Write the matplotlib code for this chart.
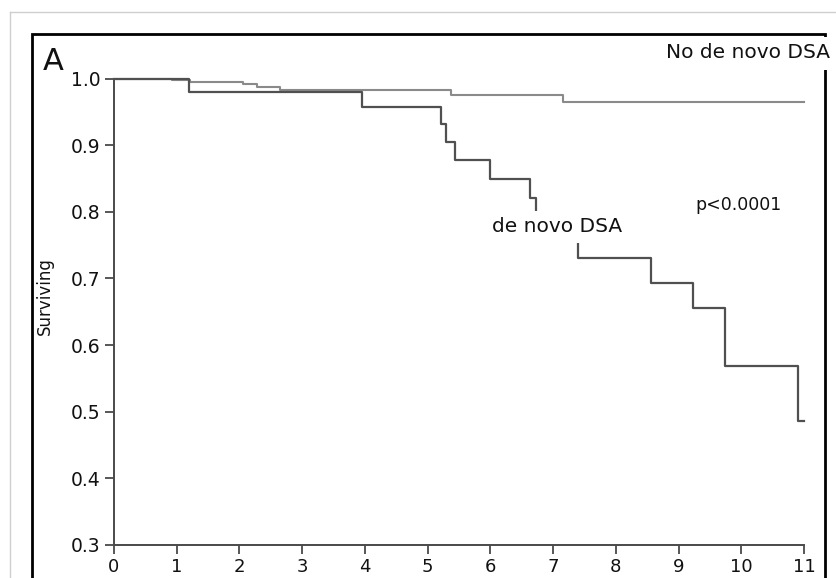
import matplotlib
matplotlib.use("Agg")
import matplotlib.pyplot as plt
from matplotlib.patches import Rectangle
from matplotlib.lines import Line2D

# ---- data ----
dsa_times = [0, 1.20, 3.96, 5.22, 5.29, 5.43, 5.99, 6.63, 6.72, 7.39, 8.56, 9.23, 9.74, 10.91, 11.0]
dsa_surv = [1.0, 0.980, 0.957, 0.931, 0.905, 0.877, 0.849, 0.821, 0.775, 0.730, 0.693, 0.656, 0.569, 0.486, 0.486]

nodsa_times = [0, 0.92, 1.21, 2.06, 2.28, 2.65, 5.37, 7.16, 11.0]
nodsa_surv = [1.0, 0.998, 0.994, 0.991, 0.987, 0.982, 0.975, 0.965, 0.965]

x_ticks = list(range(0, 12))
y_ticks = [0.3, 0.4, 0.5, 0.6, 0.7, 0.8, 0.9, 1.0]
y_ticklabels = ["0.3", "0.4", "0.5", "0.6", "0.7", "0.8", "0.9", "1.0"]

panel_label = "A"
y_label = "Surviving"
label_dsa = "de novo DSA"
label_nodsa = "No de novo DSA"
p_text = "p<0.0001"

W, H = 837, 578
plt.rcParams['font.family'] = ['DejaVu Sans']

fig = plt.figure(figsize=(W / 100, H / 100), dpi=100)
fig.patch.set_facecolor("white")

# outer light gray border (top and left)
fig.add_artist(Line2D([10 / W, 1.0], [1 - 11.7 / H, 1 - 11.7 / H], color="#cfcfcf", lw=1.0,
                      transform=fig.transFigure))
fig.add_artist(Line2D([10 / W, 10 / W], [0, 1 - 11.7 / H], color="#cfcfcf", lw=1.0,
                      transform=fig.transFigure))

# black frame (bottom runs off the image)
fig.add_artist(Rectangle((32.5 / W, -0.05), (825 - 32.5) / W, (1 - 33.5 / H) + 0.05,
                         fill=False, edgecolor="black", lw=2.0, transform=fig.transFigure,
                         zorder=1))
# white patch behind the top-right label, interrupting the right frame edge
fig.add_artist(Rectangle((656 / W, 1 - 70 / H), (W - 656) / W, 33 / H,
                         facecolor="white", edgecolor="none", transform=fig.transFigure,
                         zorder=2))

left, right = 114 / W, 804 / W
bottom, top = 1 - 545 / H, 1 - 78.5 / H
ax = fig.add_axes([left, bottom, right - left, top - bottom])
ax.set_facecolor("none")

ax.step(nodsa_times, nodsa_surv, where="post", color="#8a8a8a", lw=1.5, clip_on=False, zorder=3)
ax.step(dsa_times, dsa_surv, where="post", color="#505050", lw=1.6, clip_on=False, zorder=3)

ax.set_xlim(0, 11)
ax.set_ylim(0.3, 1.0)
ax.set_xticks(x_ticks)
ax.set_xticklabels([str(t) for t in x_ticks])
ax.set_yticks(y_ticks)
ax.set_yticklabels(y_ticklabels)

for s in ["top", "right"]:
    ax.spines[s].set_visible(False)
for s in ["left", "bottom"]:
    ax.spines[s].set_color("#4a4a4a")
    ax.spines[s].set_linewidth(1.4)

ax.tick_params(axis="both", direction="out", length=6.5, width=1.3, color="#4a4a4a",
               labelsize=13.5, labelcolor="#111111")
ax.tick_params(axis="x", pad=2.5, labelsize=13)
ax.tick_params(axis="y", pad=3)

ax.set_ylabel(y_label, fontsize=12, color="#111111")
ax.yaxis.set_label_coords((54 - 114) / 689, (545 - 296) / 466.5)

# annotations
fig.text(43 / W, 1 - 70 / H, panel_label, fontsize=22, color="#111111", ha="left", va="baseline")

fig.text(557 / W, 1 - 227 / H, label_dsa, fontsize=14.5, color="#111111", ha="center", va="center",
         bbox=dict(boxstyle="square,pad=0.33", facecolor="white", edgecolor="none"), zorder=5)

fig.text(748 / W, 1 - 53 / H, label_nodsa, fontsize=14.5, color="#111111", ha="center", va="center",
         zorder=5)

fig.text(739 / W, 1 - 205 / H, p_text, fontsize=12.5, color="#111111", ha="center", va="center",
         zorder=5)

fig.savefig("out.png", dpi=100, facecolor="white")
